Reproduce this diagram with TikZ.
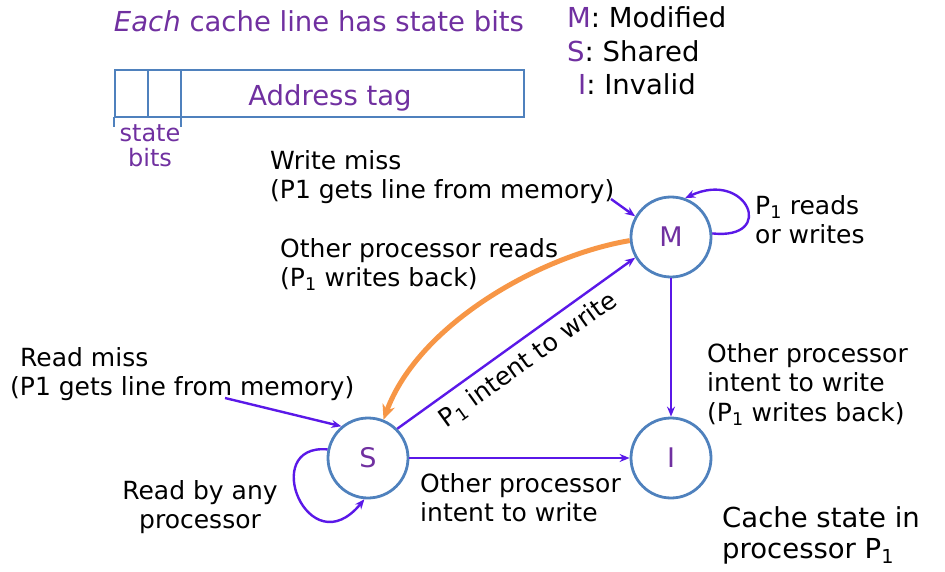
\documentclass[tikz,border=0pt]{standalone}
\usepackage{fontspec}
\setmainfont{DejaVu Sans}
\usetikzlibrary{positioning,arrows.meta}
\definecolor{cL}{HTML}{4F81BD}
\definecolor{cP}{HTML}{7030A0}
\definecolor{cV}{HTML}{5A18E8}
\definecolor{cO}{HTML}{F79646}
\newcommand{\Pone}{P\textsubscript{1}}

\begin{document}
\begin{tikzpicture}[x=1pt,y=-1pt,
  font=\fontsize{25}{29.5}\selectfont, inner sep=0pt,
  st/.style={circle,draw=cL,line width=2.8pt,minimum size=80pt,text=cP,font=\fontsize{27}{30}\selectfont},
  lb/.style={anchor=north west,align=left},
  big/.style={font=\fontsize{27.5}{31}\selectfont},
  fl/.style={draw=cL,line width=2.6pt},
  ar/.style={-{Stealth[length=10pt,width=8pt]},cV,line width=2.4pt},
  oar/.style={-{Stealth[length=15pt,width=13pt]},cO,line width=5pt}]
\useasboundingbox (0,0) rectangle (945,572);

% one cache line
\node[big,text=cP,anchor=base] (ttl) at (319,32) {\textit{Each} cache line has state bits};
\draw[fl] (115,70) rectangle (524,117);
\draw[fl] (148,70) -- (148,117) (181,70) -- (181,117);
\draw[fl,line width=1.8pt] (114,117) -- (114,127) (181,117) -- (181,127);
\node[big,text=cP,anchor=base] (tag) at (330,106) {Address tag};
\node[text=cP,anchor=north,align=center,font=\fontsize{24}{25}\selectfont] (sb) at (150,124) {state\\bits};

\node[big,anchor=base west] (lm) at (567,28) {\textcolor{cP}{M}: Modified};
\node[big,anchor=base west] (ls) at (567,62) {\textcolor{cP}{S}: Shared};
\node[big,anchor=base west] (li) at (578,95) {\textcolor{cP}{I}: Invalid};

% states
\node[st] (M) at (671,237) {M};
\node[st] (S) at (368,458) {S};
\node[st] (I) at (671,458) {I};

\node[lb] (wm) at (270,150) {Write miss\\(P1 gets line from memory)};
\node[lb] (opr) at (280,238) {Other processor reads\\(\Pone{} writes back)};
\node[lb] (prw) at (755,195) {\Pone{} reads\\or writes};
\node[lb] (rm) at (10,347) {\hspace*{10pt}Read miss\\(P1 gets line from memory)};
\node[anchor=north,align=center] (rba) at (200,480) {Read by any\\processor};
\node[lb] (oiw) at (420,473) {Other processor\\intent to write};
\node[lb] (oiwb) at (707,343) {Other processor\\intent to write\\(\Pone{} writes back)};
\node[lb,big] (cs) at (722,506) {Cache state in\\processor \Pone};

\coordinate (wmE) at (611,199);
\coordinate (rmE) at (225,398);
\draw[ar] (wmE) -- (M.150);
\draw[ar] (rmE) -- (S.130);
\draw[ar] (M.5) .. controls +(65,7) and +(62,-29) .. (M.70);
\draw[ar] (S.168) .. controls +(-69,-6) and +(-56,68) .. (S.265);
\draw[oar] (M.185) .. controls +(-90,15) and +(35,-95) .. (S.68);
\draw[ar] (S.45) -- (M.210) node[midway,sloped,below=8pt,text=black] {\Pone{} intent to write};
\draw[ar] (M) -- (I);
\draw[ar] (S) -- (I);
\end{tikzpicture}
\end{document}
